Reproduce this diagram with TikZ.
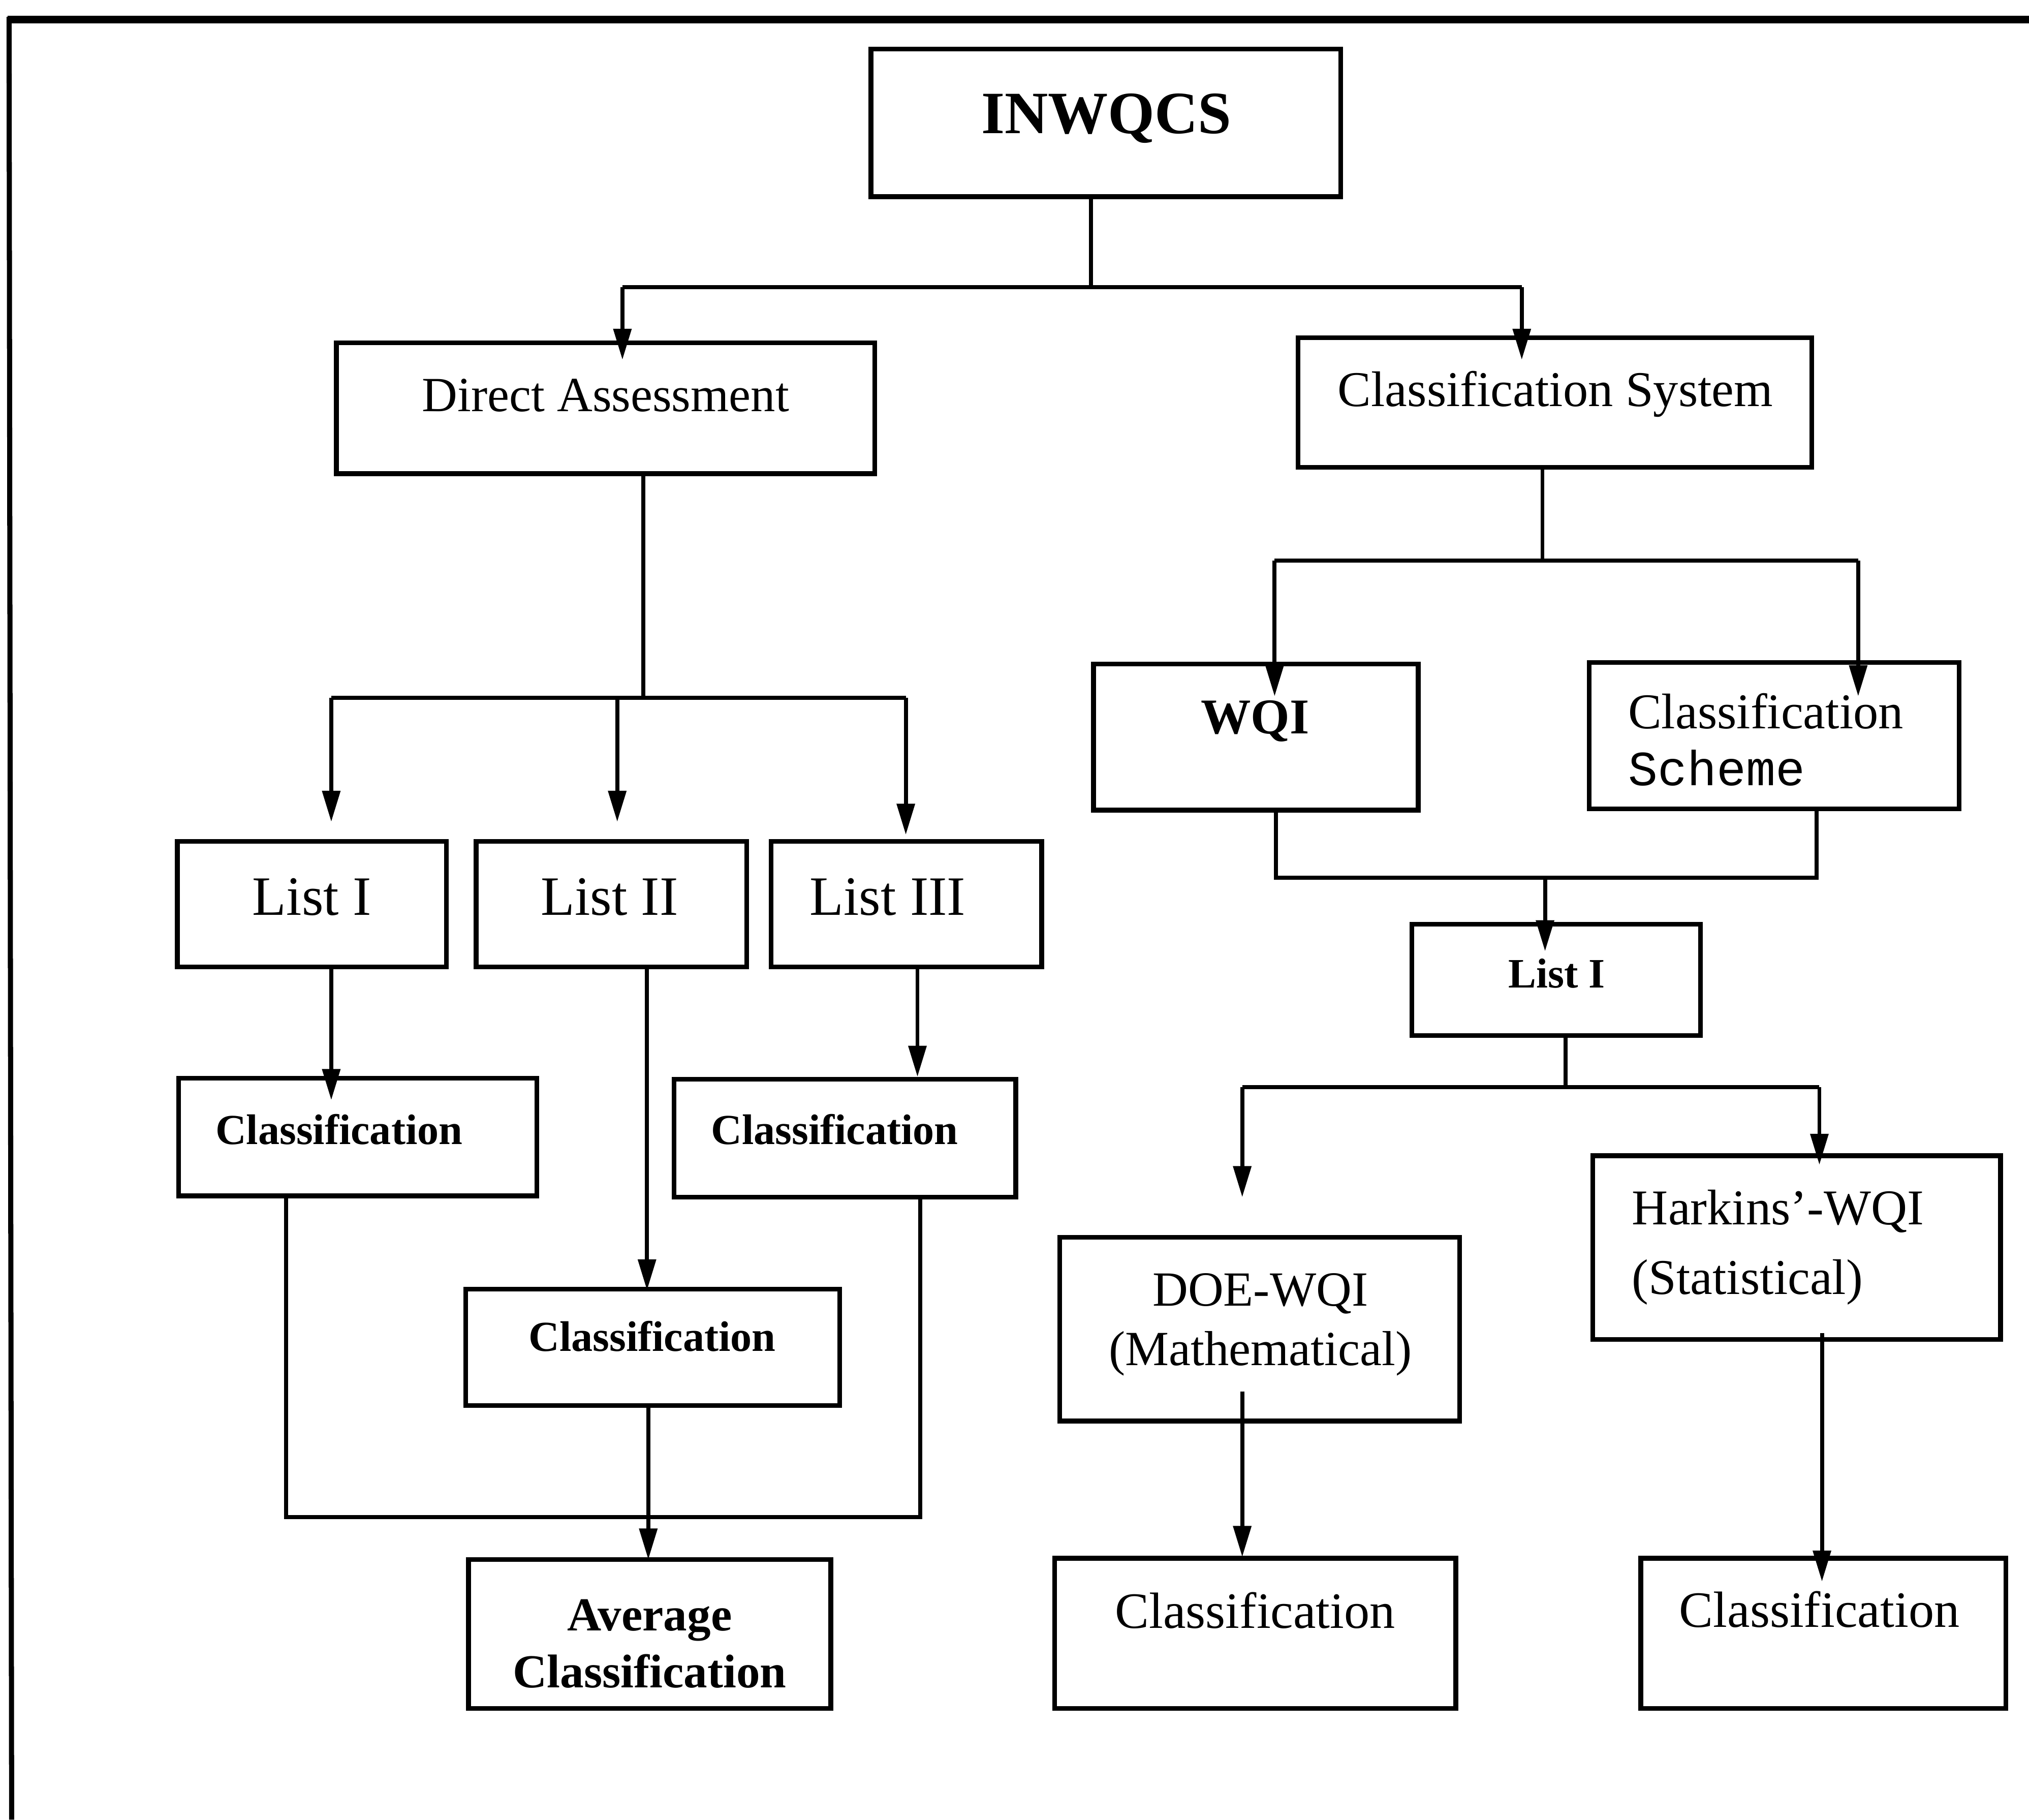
\documentclass[tikz,border=0pt]{standalone}
\usepackage{fontspec}
\setmainfont{Liberation Serif}
\setmonofont{Liberation Mono}
\usetikzlibrary{arrows.meta}

% rectangle given by its corners (x1,y1) and (x2,y2)
\newcommand\boxnode[5]{%
  \node[box, minimum width={(#4-#2)*0.025cm}, minimum height={(#5-#3)*0.025cm}] (#1) at (#2,#3) {};}
\newcommand\fs[1]{\fontsize{#1}{#1}\selectfont}

\begin{document}
\begin{tikzpicture}[x=0.025cm, y=-0.025cm,
  box/.style={draw, line width=2.6pt, anchor=north west, inner sep=0pt, outer sep=0pt},
  link/.style={line width=2.2pt},
  arr/.style={link, -{Triangle[length=0.6cm, width=0.34cm]}},
  lbl/.style={anchor=base, inner sep=0pt},
  lblw/.style={anchor=base west, inner sep=0pt},
]
\useasboundingbox (0,0) rectangle (1568,1406);

% outer frame (top and left edges)
\draw[line width=4.2pt] (6,15) -- (1568,15);
\draw[line width=2.8pt] (7,13) -- (9,1406);

% boxes
\boxnode{inw}{673}{38}{1036}{152}
\boxnode{da}{260}{265}{676}{366}
\boxnode{cs}{1003}{261}{1400}{361}
\boxnode{la}{137}{650}{345}{747}
\boxnode{lb}{368}{650}{577}{747}
\boxnode{lc}{596}{650}{805}{747}
\boxnode{ca}{138}{833}{415}{924}
\boxnode{cc}{521}{834}{785}{925}
\boxnode{cb}{360}{996}{649}{1086}
\boxnode{avg}{362}{1205}{642}{1320}
\boxnode{wqi}{845}{513}{1096}{626}
\boxnode{sch}{1228}{512}{1514}{625}
\boxnode{rl}{1091}{714}{1314}{800}
\boxnode{doe}{819}{956}{1128}{1098}
\boxnode{har}{1231}{893}{1546}{1035}
\boxnode{rca}{815}{1204}{1125}{1320}
\boxnode{rcb}{1268}{1204}{1550}{1320}

% labels
\node[lbl, font=\bfseries\fs{33}] (inw-t) at (855,103) {INWQCS};
\node[lbl, font=\fs{27}] (da-t) at (468,318) {Direct Assessment};
\node[lbl, font=\fs{27.5}] (cs-t) at (1202,314) {Classification System};
\node[lbl, font=\fs{30.5}] (la-t) at (241,707) {List I};
\node[lbl, font=\fs{30.5}] (lb-t) at (471,707) {List II};
\node[lbl, font=\fs{30.5}] (lc-t) at (686,707) {List III};
\node[lbl, font=\bfseries\fs{23.5}] (ca-t) at (262,884) {Classification};
\node[lbl, font=\bfseries\fs{23.5}] (cc-t) at (645,884) {Classification};
\node[lbl, font=\bfseries\fs{23.5}] (cb-t) at (504,1044) {Classification};
\node[lbl, font=\bfseries\fs{26}] (avg-t1) at (502,1260) {Average};
\node[lbl, font=\bfseries\fs{26}] (avg-t2) at (502,1304) {Classification};
\node[lbl, font=\bfseries\fs{27.5}] (wqi-t) at (970,567) {WQI};
\node[lblw, font=\fs{27.5}] (sch-t1) at (1258,563) {Classification};
\node[lblw, font=\ttfamily\fs{27}] (sch-t2) at (1258,607) {Scheme};
\node[lbl, font=\bfseries\fs{23}] (rl-t) at (1203,763) {List I};
\node[lbl, font=\fs{27}] (doe-t1) at (974,1009) {DOE-WQI};
\node[lbl, font=\fs{27}] (doe-t2) at (974,1055) {(Mathematical)};
\node[lblw, font=\fs{27.5}] (har-t1) at (1261,946) {Harkins’-WQI};
\node[lblw, font=\fs{27.5}] (har-t2) at (1261,1000) {(Statistical)};
\node[lbl, font=\fs{28}] (rca-t) at (970,1258) {Classification};
\node[lbl, font=\fs{28}] (rcb-t) at (1406,1257) {Classification};

% junction points and arrow tips
\coordinate (j0) at (843,222);
\coordinate (j0l) at (481,222);
\coordinate (j0r) at (1176,222);
\coordinate (tda) at (481,278);
\coordinate (tcs) at (1176,278);

\coordinate (j1) at (497,539);
\coordinate (j1l) at (256,539);
\coordinate (j1m) at (477,539);
\coordinate (j1r) at (700,539);
\coordinate (tla) at (256,635);
\coordinate (tlb) at (477,635);
\coordinate (tlc) at (700,645);

\coordinate (sa) at (256,747);
\coordinate (tca) at (256,850);
\coordinate (sb) at (500,747);
\coordinate (tcb) at (500,997);
\coordinate (sc) at (709,747);
\coordinate (tcc) at (709,832);

\coordinate (m1) at (221,1172);
\coordinate (m2) at (711,1172);
\coordinate (sm) at (501,1086);
\coordinate (tavg) at (501,1205);

\coordinate (j2) at (1192,433);
\coordinate (j2l) at (985,433);
\coordinate (j2r) at (1436,433);
\coordinate (twqi) at (985,538);
\coordinate (tsch) at (1436,538);

\coordinate (k1) at (986,678);
\coordinate (k2) at (1404,678);
\coordinate (k3) at (1194,678);
\coordinate (trl) at (1194,735);

\coordinate (j3) at (1210,840);
\coordinate (j3l) at (960,840);
\coordinate (j3r) at (1406,840);
\coordinate (tdoe) at (960,925);
\coordinate (thar) at (1406,900);

\coordinate (sdoe) at (960,1075);
\coordinate (trca) at (960,1203);
\coordinate (shar) at (1408,1030);
\coordinate (trcb) at (1408,1222);

% connectors: left branch
\draw[link] (inw.south -| j0) -- (j0);
\draw[link] (j0l) -- (j0r);
\draw[arr] (j0l) -- (tda);
\draw[arr] (j0r) -- (tcs);

\draw[link] (da.south -| j1) -- (j1);
\draw[link] (j1l) -- (j1r);
\draw[arr] (j1l) -- (tla);
\draw[arr] (j1m) -- (tlb);
\draw[arr] (j1r) -- (tlc);

\draw[arr] (la.south -| sa) -- (tca);
\draw[arr] (lb.south -| sb) -- (tcb);
\draw[arr] (lc.south -| sc) -- (tcc);

\draw[link] (ca.south -| m1) -- (m1) -- (m2) -- (cc.south -| m2);
\draw[arr] (cb.south -| sm) -- (tavg);

% connectors: right branch
\draw[link] (cs.south -| j2) -- (j2);
\draw[link] (j2l) -- (j2r);
\draw[arr] (j2l) -- (twqi);
\draw[arr] (j2r) -- (tsch);

\draw[link] (wqi.south -| k1) -- (k1) -- (k2) -- (sch.south -| k2);
\draw[arr] (k3) -- (trl);

\draw[link] (rl.south -| j3) -- (j3);
\draw[link] (j3l) -- (j3r);
\draw[arr] (j3l) -- (tdoe);
\draw[arr] (j3r) -- (thar);

\draw[arr] (sdoe) -- (trca);
\draw[arr] (shar) -- (trcb);
\end{tikzpicture}
\end{document}
